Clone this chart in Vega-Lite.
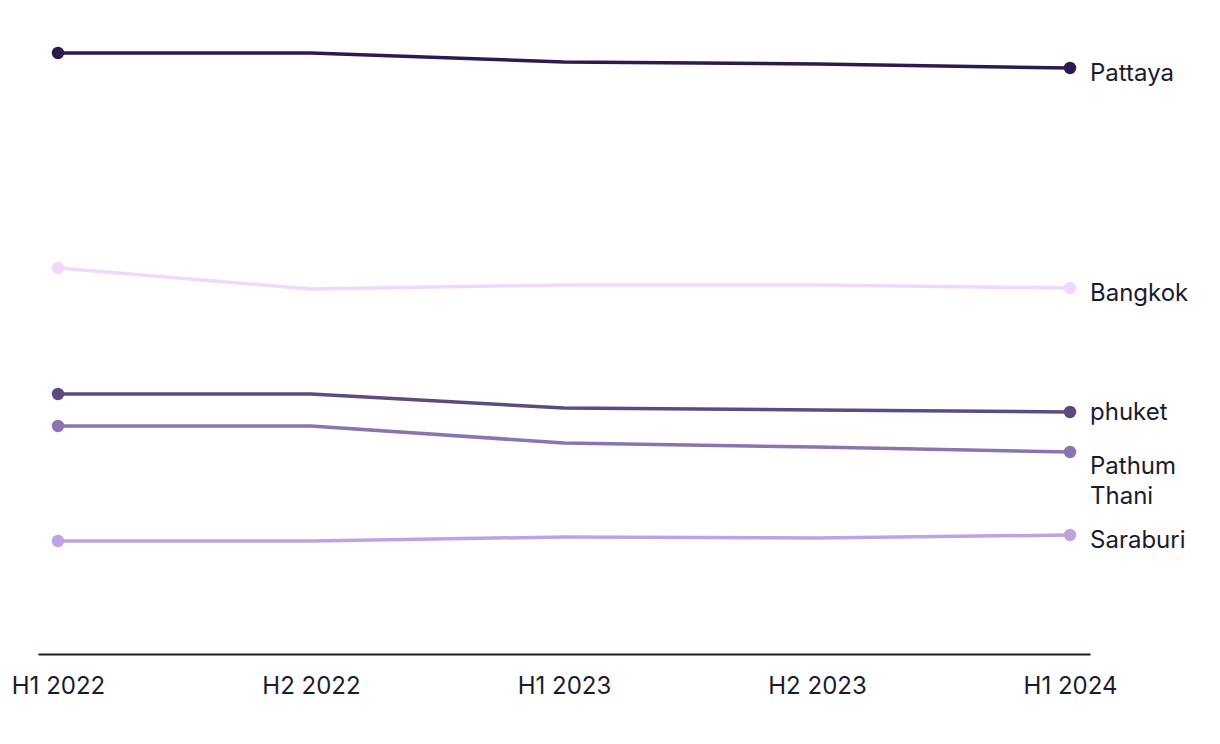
{
  "$schema": "https://vega.github.io/schema/vega-lite/v6.json",
  "width": 1052,
  "height": 634,
  "autosize": {"type": "none"},
  "padding": {"left": 38, "top": 20, "right": 130, "bottom": 90},
  "background": "white",
  "config": {
    "view": {"stroke": null},
    "font": "Inter"
  },
  "data": {
    "values": [
      {"city": "Pattaya", "label": "Pattaya", "period": "H1 2022", "value": 601},
      {"city": "Pattaya", "label": "Pattaya", "period": "H2 2022", "value": 601},
      {"city": "Pattaya", "label": "Pattaya", "period": "H1 2023", "value": 592},
      {"city": "Pattaya", "label": "Pattaya", "period": "H2 2023", "value": 590},
      {"city": "Pattaya", "label": "Pattaya", "period": "H1 2024", "value": 586},
      {"city": "Bangkok", "label": "Bangkok", "period": "H1 2022", "value": 386},
      {"city": "Bangkok", "label": "Bangkok", "period": "H2 2022", "value": 365},
      {"city": "Bangkok", "label": "Bangkok", "period": "H1 2023", "value": 369},
      {"city": "Bangkok", "label": "Bangkok", "period": "H2 2023", "value": 369},
      {"city": "Bangkok", "label": "Bangkok", "period": "H1 2024", "value": 366},
      {"city": "phuket", "label": "phuket", "period": "H1 2022", "value": 260},
      {"city": "phuket", "label": "phuket", "period": "H2 2022", "value": 260},
      {"city": "phuket", "label": "phuket", "period": "H1 2023", "value": 246},
      {"city": "phuket", "label": "phuket", "period": "H2 2023", "value": 244},
      {"city": "phuket", "label": "phuket", "period": "H1 2024", "value": 242},
      {"city": "Pathum Thani", "label": "Pathum\nThani", "period": "H1 2022", "value": 228},
      {"city": "Pathum Thani", "label": "Pathum\nThani", "period": "H2 2022", "value": 228},
      {"city": "Pathum Thani", "label": "Pathum\nThani", "period": "H1 2023", "value": 211},
      {"city": "Pathum Thani", "label": "Pathum\nThani", "period": "H2 2023", "value": 207},
      {"city": "Pathum Thani", "label": "Pathum\nThani", "period": "H1 2024", "value": 202},
      {"city": "Saraburi", "label": "Saraburi", "period": "H1 2022", "value": 113},
      {"city": "Saraburi", "label": "Saraburi", "period": "H2 2022", "value": 113},
      {"city": "Saraburi", "label": "Saraburi", "period": "H1 2023", "value": 117},
      {"city": "Saraburi", "label": "Saraburi", "period": "H2 2023", "value": 116},
      {"city": "Saraburi", "label": "Saraburi", "period": "H1 2024", "value": 119}
    ]
  },
  "encoding": {
    "x": {
      "field": "period",
      "type": "ordinal",
      "sort": ["H1 2022", "H2 2022", "H1 2023", "H2 2023", "H1 2024"],
      "scale": {"type": "point", "padding": 0.079},
      "axis": {
        "title": null,
        "labelAngle": 0,
        "labelFontSize": 24,
        "labelColor": "#1c1b2e",
        "labelPadding": 20,
        "ticks": false,
        "domainColor": "#1c1b2e",
        "domainWidth": 2,
        "grid": false
      }
    },
    "y": {
      "field": "value",
      "type": "quantitative",
      "scale": {"domain": [0, 634], "nice": false, "zero": true},
      "axis": null
    },
    "color": {
      "field": "city",
      "type": "nominal",
      "scale": {
        "domain": ["Pattaya", "Bangkok", "phuket", "Pathum Thani", "Saraburi"],
        "range": ["#2e1a4f", "#f0d8fd", "#5e4a80", "#8c74b3", "#bea3e3"]
      },
      "legend": null
    }
  },
  "layer": [
    {
      "mark": {"type": "text", "text": "GlobalData", "fontSize": 42, "fontWeight": "bold", "color": "#f3f3f3", "dx": 46},
      "encoding": {
        "x": {"datum": "H1 2023"},
        "y": {"datum": 282},
        "color": null
      },
      "data": {"values": [{}]}
    },
    {
      "mark": {"type": "line", "strokeWidth": 3.5}
    },
    {
      "transform": [{"filter": "datum.period === 'H1 2022' || datum.period === 'H1 2024'"}],
      "mark": {"type": "point", "filled": true, "opacity": 1, "size": 155}
    },
    {
      "transform": [{"filter": "datum.period === 'H1 2024' && (datum.city === 'Pattaya' || datum.city === 'Bangkok' || datum.city === 'Saraburi')"}],
      "mark": {"type": "text", "align": "left", "baseline": "alphabetic", "dx": 20, "dy": 13, "fontSize": 24, "color": "#1c1b2e"},
      "encoding": {"text": {"field": "label"}, "color": null}
    },
    {
      "transform": [{"filter": "datum.period === 'H1 2024' && datum.city === 'phuket'"}],
      "mark": {"type": "text", "align": "left", "baseline": "alphabetic", "dx": 20, "dy": 8, "fontSize": 24, "color": "#1c1b2e"},
      "encoding": {"text": {"field": "label"}, "color": null}
    },
    {
      "transform": [{"filter": "datum.period === 'H1 2024' && datum.city === 'Pathum Thani'"}],
      "mark": {"type": "text", "align": "left", "baseline": "alphabetic", "dx": 20, "dy": 22, "fontSize": 24, "lineBreak": "\n", "lineHeight": 30, "color": "#1c1b2e"},
      "encoding": {"text": {"field": "label"}, "color": null}
    }
  ]
}
